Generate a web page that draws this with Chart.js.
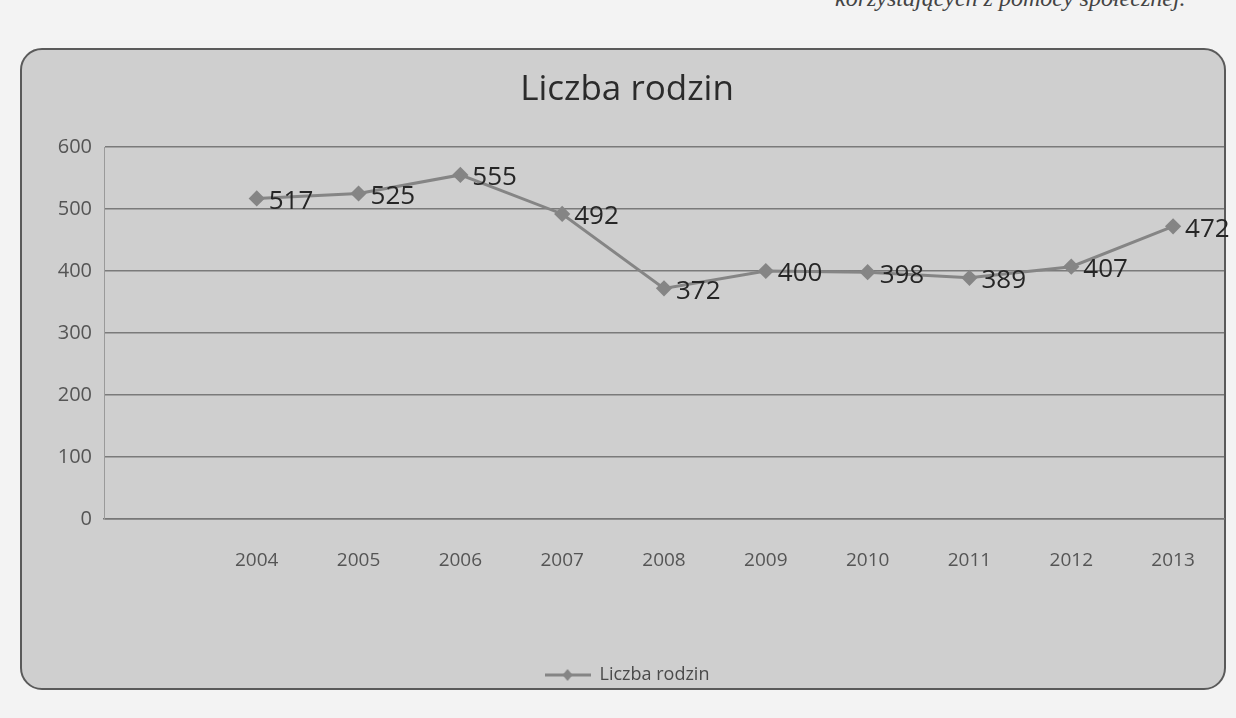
<!DOCTYPE html>
<html>
<head>
<meta charset="utf-8">
<script src="https://cdn.jsdelivr.net/npm/chart.js@4.4.1/dist/chart.umd.min.js"></script>
<style>
  html, body { margin: 0; padding: 0; background: #f3f3f3; width: 1236px; height: 718px; overflow: hidden; }
  #frame { position: absolute; left: 20px; top: 48px; width: 1206px; height: 642px;
    background: #cfcfcf; border: 2px solid #5a5a5a; border-radius: 22px; box-sizing: border-box; }
  #doc { position: absolute; left: 835px; top: -15px; font-family: "Liberation Serif", serif; font-style: italic;
    font-size: 24px; color: #444; white-space: nowrap; }
  #wrap { position: absolute; left: 0; top: 0; width: 1236px; height: 718px; }
</style>
</head>
<body>
<div id="doc">korzystających z pomocy społecznej.</div>
<div id="frame"></div>
<div id="wrap"><canvas id="c" width="1236" height="718"></canvas></div>
<script>
const chartTitle = "Liczba rodzin";
const seriesName = "Liczba rodzin";
const years = ["2004","2005","2006","2007","2008","2009","2010","2011","2012","2013"];
const families = [517, 525, 555, 492, 372, 400, 398, 389, 407, 472];
const yTicks = [0, 100, 200, 300, 400, 500, 600];

// leading empty category (as in the original Excel layout)
const labels = [""].concat(years);
const data = [null].concat(families);

const lineColor = "#858585";

// legend symbol: line with a diamond marker
const sym = document.createElement("canvas");
sym.width = 46; sym.height = 14;
(function () {
  const g = sym.getContext("2d");
  g.strokeStyle = lineColor; g.lineWidth = 3;
  g.beginPath(); g.moveTo(0, 7); g.lineTo(46, 7); g.stroke();
  g.fillStyle = lineColor;
  g.beginPath(); g.moveTo(23, 1); g.lineTo(28, 7); g.lineTo(23, 13); g.lineTo(18, 7); g.closePath(); g.fill();
})();

const valueLabels = {
  id: "valueLabels",
  afterDatasetsDraw(chart) {
    const ctx = chart.ctx;
    const meta = chart.getDatasetMeta(0);
    ctx.save();
    ctx.font = "26px 'Open Sans'";
    ctx.fillStyle = "#262626";
    ctx.textAlign = "left";
    ctx.textBaseline = "middle";
    meta.data.forEach((pt, i) => {
      const v = data[i];
      if (v === null) return;
      ctx.fillText(String(v), pt.x + 12, pt.y + 3);
    });
    ctx.restore();
  }
};

new Chart(document.getElementById("c"), {
  type: "line",
  data: {
    labels: labels,
    datasets: [{
      label: seriesName,
      data: data,
      borderColor: lineColor,
      backgroundColor: lineColor,
      borderWidth: 3,
      pointStyle: "rectRot",
      pointRadius: 6,
      pointBackgroundColor: lineColor,
      pointBorderColor: lineColor,
      tension: 0,
      spanGaps: false
    }]
  },
  options: {
    responsive: false,
    animation: false,
    layout: { padding: { top: 40, left: 30, right: 12, bottom: 24 } },
    plugins: {
      title: {
        display: true,
        text: chartTitle,
        color: "#2b2b2b",
        font: { family: "Open Sans", size: 35, weight: "normal" },
        padding: { top: 29, bottom: 36 }
      },
      legend: {
        display: true,
        position: "bottom",
        labels: {
          usePointStyle: true,
          pointStyle: sym,
          pointStyleWidth: 46,
          color: "#4a4a4a",
          font: { family: "Open Sans", size: 18 },
          padding: 10
        }
      },
      tooltip: { enabled: false }
    },
    scales: {
      x: {
        offset: true,
        grid: { display: false, drawTicks: false },
        border: { display: true, color: "#777", width: 1.5 },
        ticks: { color: "#555", font: { family: "Open Sans", size: 19 }, padding: 30, maxRotation: 0, autoSkip: false },
        afterFit(s) { s.height = 137; }
      },
      y: {
        min: 0, max: 600,
        afterBuildTicks(s) { s.ticks = yTicks.map(v => ({ value: v })); },
        grid: { color: "#7a7a7a", lineWidth: 1.5, drawTicks: false },
        border: { display: true, color: "#9a9a9a", width: 1 },
        ticks: { color: "#555", font: { family: "Open Sans", size: 20 }, padding: 12 },
        afterFit(s) { s.width = 74; }
      }
    }
  },
  plugins: [valueLabels]
});
</script>
</body>
</html>
